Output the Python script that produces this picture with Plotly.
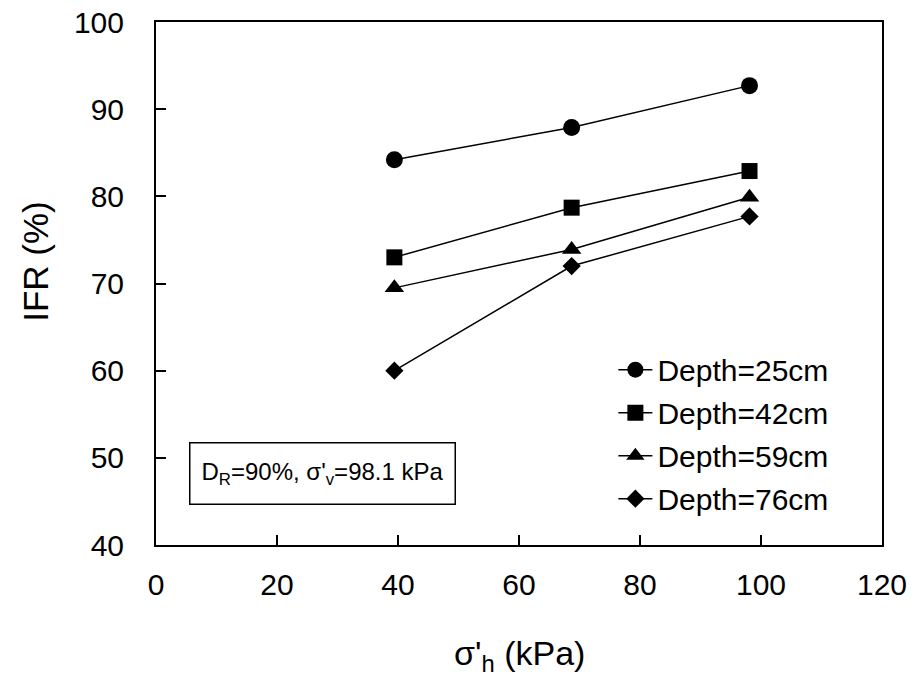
import plotly.graph_objects as go

# Horizontal effective stress (kPa) at which IFR was measured
sigma_h = [39.4, 68.7, 98.1]

# Incremental filling ratio (%) for each depth
depth_25 = [84.2, 87.9, 92.7]
depth_42 = [73.0, 78.7, 82.9]
depth_59 = [69.5, 73.9, 79.9]
depth_76 = [60.0, 72.0, 77.7]

series = [
    ("Depth=25cm", depth_25, "circle", 17),
    ("Depth=42cm", depth_42, "square", 16),
    ("Depth=59cm", depth_59, "triangle-up", 17),
    ("Depth=76cm", depth_76, "diamond", 14),
]

FONT = "Liberation Sans, Arial, sans-serif"

fig = go.Figure()
for i, (name, vals, sym, size) in enumerate(series):
    fig.add_trace(go.Scatter(
        x=sigma_h, y=vals, name=name, mode="lines+markers",
        line=dict(color="black", width=1.5),
        marker=dict(symbol=sym, size=size, color="black"),
        legendgroup=f"g{i}",
    ))

axis_common = dict(
    showgrid=False, zeroline=False, showline=True, linecolor="black",
    linewidth=2, mirror=True, ticks="inside", ticklen=10, tickwidth=1.5,
    tickcolor="black", tickfont=dict(family=FONT, size=30, color="black"),
)

fig.update_xaxes(
    range=[0, 120], tickvals=[0, 20, 40, 60, 80, 100, 120],
    ticklabelstandoff=12,
    **axis_common,
)
fig.update_yaxes(
    range=[40, 100], tickvals=[40, 50, 60, 70, 80, 90, 100],
    ticklabelstandoff=24,
    **axis_common,
)

# Axis titles
fig.add_annotation(
    xref="paper", yref="paper", x=0.5, y=-0.212, xanchor="center", yanchor="middle",
    text="σ'<sub>h</sub> (kPa)", showarrow=False,
    font=dict(family=FONT, size=34, color="black"),
)
fig.add_annotation(
    xref="paper", yref="paper", x=-0.167, y=0.543, xanchor="center", yanchor="middle",
    text="IFR (%)", textangle=-90, showarrow=False,
    font=dict(family=FONT, size=35, color="black"),
)

# Test-condition label
fig.add_annotation(
    xref="paper", yref="paper", x=0.2287, y=0.1367, xanchor="center", yanchor="middle",
    text="D<sub>R</sub>=90%, σ'<sub>v</sub>=98.1 kPa",
    showarrow=False, font=dict(family=FONT, size=24, color="black"),
    bordercolor="black", borderwidth=1.5, borderpad=4, bgcolor="white",
    width=256, height=52,
)

fig.update_layout(
    width=915, height=679,
    margin=dict(l=156, r=33, t=22, b=134, autoexpand=False),
    paper_bgcolor="white", plot_bgcolor="white",
    showlegend=True,
    legend=dict(
        x=0.63, y=0.385, xanchor="left", yanchor="top",
        font=dict(family=FONT, size=30, color="black"),
        bgcolor="rgba(0,0,0,0)", tracegroupgap=1, itemwidth=34,
    ),
)

fig.write_html("out.html")
